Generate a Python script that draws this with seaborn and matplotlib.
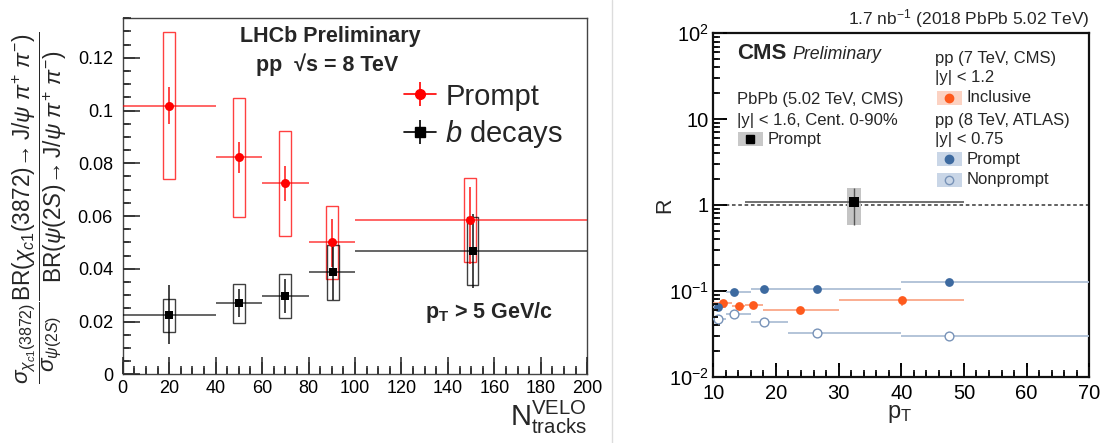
import numpy as np
import matplotlib
matplotlib.use("Agg")
import matplotlib.pyplot as plt
import seaborn as sns
import pandas as pd
from matplotlib.patches import Rectangle
from matplotlib.lines import Line2D
from matplotlib.legend_handler import HandlerTuple
from matplotlib.ticker import MultipleLocator, FixedLocator, FixedFormatter, FuncFormatter, LogLocator, NullFormatter

# ---------------- LHCb data (left panel) ----------------
lhcb_bin_lo = [0, 40, 60, 80, 100]
lhcb_bin_hi = [40, 60, 80, 100, 200]
prompt_x = [20, 50, 70, 90, 149.5]
prompt_y = [0.1018, 0.0823, 0.0724, 0.0501, 0.0585]
prompt_stat_lo = [0.0948, 0.0765, 0.0657, 0.0408, 0.0420]
prompt_stat_hi = [0.1089, 0.0880, 0.0790, 0.0587, 0.0709]
prompt_syst_lo = [0.0739, 0.0595, 0.0524, 0.0363, 0.0424]
prompt_syst_hi = [0.1297, 0.1048, 0.0922, 0.0638, 0.0746]
bdec_x = [20, 50, 70, 90.5, 150.6]
bdec_y = [0.0225, 0.0270, 0.0297, 0.0386, 0.0466]
bdec_stat_lo = [0.0114, 0.0218, 0.0234, 0.0281, 0.0329]
bdec_stat_hi = [0.0338, 0.0324, 0.0362, 0.0492, 0.0606]
bdec_syst_lo = [0.0162, 0.0196, 0.0215, 0.0281, 0.0338]
bdec_syst_hi = [0.0287, 0.0344, 0.0380, 0.0492, 0.0595]

# ---------------- CMS data (right panel) ----------------
pbpb_x = [32.5]
pbpb_lo = [15]
pbpb_hi = [50]
pbpb_y = [1.09]
pbpb_err_lo = [0.585]
pbpb_err_hi = [1.59]

incl_x = [11.6, 14.15, 16.35, 23.9, 40.05]
incl_lo = [10, 13, 15, 18, 30]
incl_hi = [13, 15, 18, 30, 50]
incl_y = [0.0728, 0.0666, 0.0684, 0.0598, 0.0782]
incl_err_lo = [0.069, 0.063, 0.065, 0.057, 0.066]
incl_err_hi = [0.077, 0.070, 0.072, 0.063, 0.085]

atlas_x = [10.7, 13.35, 18.1, 26.5, 47.6]
atlas_lo = [10, 12, 16, 22, 40]
atlas_hi = [12, 16, 22, 40, 70]
atlas_prompt_y = [0.0643, 0.0969, 0.104, 0.106, 0.128]
atlas_nonprompt_y = [0.0466, 0.0537, 0.0437, 0.0326, 0.0298]

RED = "#ff0000"
ORANGE = "#fe5a1d"
ORANGE_L = "#f9a07e"
BLUE = "#3d6aa0"
BLUE_L = "#aebfd6"
BLUE_O = "#7893b8"

sns.set_style("ticks")
plt.rcParams['font.family'] = ['Liberation Sans', 'DejaVu Sans']
plt.rcParams['mathtext.fontset'] = 'custom'
plt.rcParams['mathtext.rm'] = 'Liberation Sans'
plt.rcParams['mathtext.it'] = 'Liberation Sans:italic'
plt.rcParams['mathtext.bf'] = 'Liberation Sans:bold'
plt.rcParams['mathtext.sf'] = 'Liberation Sans'
plt.rcParams['axes.axisbelow'] = False
plt.rcParams['xtick.direction'] = 'in'
plt.rcParams['ytick.direction'] = 'in'

W, H = 1105.0, 443.0
fig = plt.figure(figsize=(11.05, 4.43), dpi=100)
posL = [0.111, 0.155, 0.4205, 0.804]
posR = [0.6455, 0.1497, 0.3403, 0.7751]
axL = fig.add_axes(posL)
axR = fig.add_axes(posR)

# ================= LEFT PANEL =================
dfp = pd.DataFrame({"x": prompt_x, "y": prompt_y, "lo": lhcb_bin_lo, "hi": lhcb_bin_hi,
                    "slo": prompt_stat_lo, "shi": prompt_stat_hi,
                    "ylo": prompt_syst_lo, "yhi": prompt_syst_hi})
dfb = pd.DataFrame({"x": bdec_x, "y": bdec_y, "lo": lhcb_bin_lo, "hi": lhcb_bin_hi,
                    "slo": bdec_stat_lo, "shi": bdec_stat_hi,
                    "ylo": bdec_syst_lo, "yhi": bdec_syst_hi})

for df, col, mk, msz in [(dfp, RED, "o", 42), (dfb, "black", "s", 38)]:
    for _, r in df.iterrows():
        axL.add_patch(Rectangle((r.x - 2.5, r.ylo), 5.0, r.yhi - r.ylo, fill=False,
                                edgecolor=col, lw=1.0, alpha=0.75, zorder=2))
    axL.hlines(df.y, df.lo, df.hi, color=col, lw=1.2, alpha=0.7, zorder=3)
    axL.vlines(df.x, df.slo, df.shi, color=col, lw=1.2, alpha=0.85, zorder=3)
    sns.scatterplot(data=df, x="x", y="y", ax=axL, marker=mk, color=col, s=msz,
                    edgecolor=col, linewidth=0, zorder=4, legend=False)

axL.set_axisbelow(False)
axL.set_xlim(0, 200)
axL.set_ylim(0, 0.135)
axL.xaxis.set_major_locator(MultipleLocator(20))
axL.xaxis.set_minor_locator(MultipleLocator(5))
axL.yaxis.set_major_locator(MultipleLocator(0.02))
axL.yaxis.set_minor_locator(MultipleLocator(0.005))
axL.yaxis.set_major_formatter(FuncFormatter(lambda v, p: "%g" % round(v, 4)))
axL.tick_params(which='both', direction='in', top=False, right=False, bottom=True, left=True,
                colors='#222222', labelcolor='black', labelsize=13)
axL.tick_params(which='major', length=12, width=1.1)
axL.tick_params(which='minor', length=6, width=1.1)
axL.tick_params(axis='y', pad=7)
axL.tick_params(axis='x', pad=4)
for sp in axL.spines.values():
    sp.set_color('#444444')
    sp.set_linewidth(1.0)
axL.set_xlabel("")
axL.set_ylabel("")

h_prompt = (Line2D([], [], color=RED, lw=1.2),
            Line2D([], [], color=RED, marker='|', ms=17, mew=1.2, ls='none'),
            Line2D([], [], color=RED, marker='o', ms=7, ls='none'))
h_b = (Line2D([], [], color='black', lw=1.2),
       Line2D([], [], color='black', marker='|', ms=17, mew=1.2, ls='none'),
       Line2D([], [], color='black', marker='s', ms=6.5, ls='none'))
axL.legend([h_prompt, h_b], ["Prompt", r"$b$ decays"],
           handler_map={tuple: HandlerTuple(ndivide=1, pad=0)},
           loc='upper left', bbox_to_anchor=(0.575, 0.86), frameon=False,
           fontsize=21, handlelength=1.1, handletextpad=0.3, labelspacing=0.25,
           borderpad=0)

fig.text(0.2986, 0.9165, "LHCb Preliminary", ha='center', va='center', fontsize=15.5, fontweight='bold')
fig.text(0.296, 0.853, "pp  \u221as = 8 TeV", ha='center', va='center', fontsize=15.5, fontweight='bold')
fig.text(0.3846, 0.2935, r"p$_\mathbf{T}$ > 5 GeV/c", ha='left', va='center', fontsize=15.5, fontweight='bold')
fig.text(0.5315, 0.058, r"$\mathrm{N}_{\mathrm{tracks}}^{\mathrm{VELO}}$", ha='right', va='center', fontsize=21)

ylab = (r"$\dfrac{\sigma_{\chi_{c1}(3872)}}{\sigma_{\psi(2S)}}"
        r"\dfrac{\mathrm{BR}(\chi_{c1}(3872)\!\rightarrow \mathrm{J}/\psi\ \pi^{+}\ \pi^{-})}"
        r"{\mathrm{BR}(\psi(2S)\!\rightarrow \mathrm{J}/\psi\ \pi^{+}\ \pi^{-})}$")
fig.text(0.036, 0.53, ylab, rotation=90, ha='center', va='center', fontsize=16.3)

# ================= RIGHT PANEL =================
axR.set_axisbelow(False)
axR.set_yscale('log')
axR.set_xlim(10, 70)
axR.set_ylim(1e-2, 1e2)

axR.axhline(1.0, color='#555555', ls=(0, (2, 1.5)), lw=1.3, zorder=1)

axR.add_patch(Rectangle((pbpb_x[0] - 1.1, pbpb_err_lo[0]), 2.2, pbpb_err_hi[0] - pbpb_err_lo[0],
                        facecolor='#c4c4c4', edgecolor='none', zorder=2))
axR.hlines(pbpb_y, pbpb_lo, pbpb_hi, color='#666666', lw=1.3, zorder=3)
axR.vlines(pbpb_x, pbpb_err_lo, pbpb_err_hi, color='#555555', lw=1.0, zorder=3)
sns.scatterplot(x=pbpb_x, y=pbpb_y, ax=axR, marker='s', color='black', s=55,
                edgecolor='black', linewidth=0, zorder=5, legend=False)

axR.hlines(incl_y, incl_lo, incl_hi, color=ORANGE_L, lw=1.2, zorder=3)
axR.vlines(incl_x, incl_err_lo, incl_err_hi, color=ORANGE_L, lw=1.2, zorder=3)
sns.scatterplot(x=incl_x, y=incl_y, ax=axR, marker='o', color=ORANGE, s=40,
                edgecolor=ORANGE, linewidth=0, zorder=5, legend=False)

axR.hlines(atlas_prompt_y, atlas_lo, atlas_hi, color=BLUE_L, lw=1.3, zorder=3)
sns.scatterplot(x=atlas_x, y=atlas_prompt_y, ax=axR, marker='o', color=BLUE, s=40,
                edgecolor=BLUE, linewidth=0, zorder=5, legend=False)
axR.hlines(atlas_nonprompt_y, atlas_lo, atlas_hi, color=BLUE_L, lw=1.3, zorder=3)
sns.scatterplot(x=atlas_x, y=atlas_nonprompt_y, ax=axR, marker='o', facecolor='white', s=40,
                edgecolor=BLUE_O, linewidth=1.0, zorder=5, legend=False)

axR.xaxis.set_major_locator(MultipleLocator(10))
axR.xaxis.set_minor_locator(MultipleLocator(2))
axR.yaxis.set_major_locator(FixedLocator([1e-2, 1e-1, 1, 10, 100]))
axR.yaxis.set_major_formatter(FixedFormatter([r"$10^{-2}$", r"$10^{-1}$", "1", "10", r"$10^{2}$"]))
axR.yaxis.set_minor_locator(LogLocator(base=10, subs=np.arange(2, 10)))
axR.yaxis.set_minor_formatter(NullFormatter())
axR.tick_params(which='both', direction='in', top=False, right=False, bottom=True, left=True,
                labelsize=14.5, colors='black')
axR.tick_params(which='major', length=10, width=1.4)
axR.tick_params(which='minor', length=5, width=1.2)
axR.tick_params(axis='y', pad=3)
axR.tick_params(axis='x', pad=5)
for sp in axR.spines.values():
    sp.set_color('#111111')
    sp.set_linewidth(1.6)
axR.set_xlabel("")
axR.set_ylabel("")

axL.set_xlim(0, 200)
axL.set_ylim(0, 0.135)
axR.set_xlim(10, 70)
axR.set_ylim(1e-2, 1e2)


# inward tick marks placed through each axis' own locators and transforms,
# drawn as figure-level lines on top of everything
def inward_ticks(ax, maj_px, min_px, lw, color):
    x0, x1 = sorted(ax.get_xlim())
    y0, y1 = sorted(ax.get_ylim())
    inv = fig.transFigure.inverted()
    for locs, L in [(ax.xaxis.get_majorticklocs(), maj_px), (ax.xaxis.get_minorticklocs(), min_px)]:
        for v in locs:
            if x0 - 1e-9 <= v <= x1 + 1e-9:
                fx, fy = inv.transform(ax.transData.transform((v, y0)))
                fig.add_artist(Line2D([fx, fx], [fy, fy + L / H], transform=fig.transFigure,
                                      color=color, lw=lw, zorder=10, solid_capstyle='butt'))
    for locs, L in [(ax.yaxis.get_majorticklocs(), maj_px), (ax.yaxis.get_minorticklocs(), min_px)]:
        for v in locs:
            if y0 * (1 - 1e-9) <= v <= y1 * (1 + 1e-9):
                fx, fy = inv.transform(ax.transData.transform((x0, v)))
                fig.add_artist(Line2D([fx, fx + L / W], [fy, fy], transform=fig.transFigure,
                                      color=color, lw=lw, zorder=10, solid_capstyle='butt'))


inward_ticks(axL, 12, 6, 1.2, '#333333')
inward_ticks(axR, 10, 5, 1.4, '#111111')

fig.text(0.6018, 0.537, "R", rotation=90, ha='center', va='center', fontsize=15.5)
fig.text(0.8145, 0.066, r"p$_\mathrm{T}$", ha='center', va='center', fontsize=17)
fig.text(0.9855, 0.959, r"1.7 nb$^{-1}$ (2018 PbPb 5.02 TeV)", ha='right', va='center', fontsize=12.5)
fig.text(0.667, 0.880, "CMS", ha='left', va='center', fontsize=16, fontweight='bold')
fig.text(0.7176, 0.878, "Preliminary", ha='left', va='center', fontsize=12.8, style='italic')
fig.text(0.667, 0.7765, "PbPb (5.02 TeV, CMS)", ha='left', va='center', fontsize=12)
fig.text(0.667, 0.729, "|y| < 1.6, Cent. 0-90%", ha='left', va='center', fontsize=12)
fig.text(0.695, 0.686, "Prompt", ha='left', va='center', fontsize=12)
fig.text(0.846, 0.867, "pp (7 TeV, CMS)", ha='left', va='center', fontsize=12)
fig.text(0.846, 0.824, "|y| < 1.2", ha='left', va='center', fontsize=12)
fig.text(0.875, 0.779, "Inclusive", ha='left', va='center', fontsize=12)
fig.text(0.846, 0.729, "pp (8 TeV, ATLAS)", ha='left', va='center', fontsize=12)
fig.text(0.846, 0.684, "|y| < 0.75", ha='left', va='center', fontsize=12)
fig.text(0.875, 0.641, "Prompt", ha='left', va='center', fontsize=12)
fig.text(0.875, 0.594, "Nonprompt", ha='left', va='center', fontsize=12)


def legbox(cx, cy, fc):
    fig.add_artist(Rectangle(((cx - 12.5) / W, 1 - (cy + 7) / H), 25 / W, 14 / H,
                             transform=fig.transFigure, facecolor=fc, edgecolor='none'))


def legmark(cx, cy, **kw):
    fig.add_artist(Line2D([cx / W], [1 - cy / H], transform=fig.transFigure, ls='none', **kw))


legbox(750, 139, '#c8c8c8')
legmark(750, 139, marker='s', ms=6, color='black')
legbox(949, 98, '#fcd2c2')
legmark(949, 98, marker='o', ms=6, color=ORANGE, mec=ORANGE)
legbox(949, 159, '#c9d6e7')
legmark(949, 159, marker='o', ms=6, color=BLUE, mec=BLUE)
legbox(949, 180, '#c9d6e7')
legmark(949, 180, marker='o', ms=6, mfc='none', mec=BLUE_O, mew=1.0)

fig.add_artist(Line2D([612 / W, 612 / W], [0, 1], transform=fig.transFigure, color='#dcdcdc', lw=1.0))

fig.savefig("out.png", dpi=100)
